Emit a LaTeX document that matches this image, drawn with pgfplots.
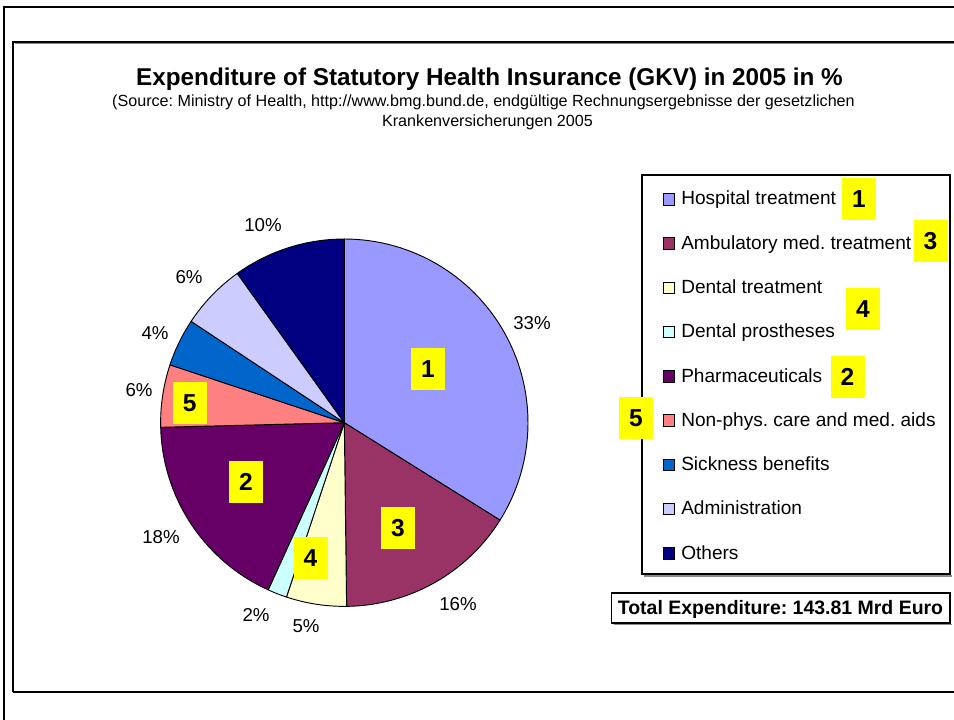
\documentclass[border=0pt]{standalone}
\usepackage{fontspec}
\setmainfont{Liberation Sans}
\usepackage{pgfplots}
\pgfplotsset{compat=1.18}
\frenchspacing

\definecolor{cHosp}{HTML}{9999FF}
\definecolor{cAmb}{HTML}{993366}
\definecolor{cDent}{HTML}{FFFFCC}
\definecolor{cPros}{HTML}{CCFFFF}
\definecolor{cPharm}{HTML}{660066}
\definecolor{cNon}{HTML}{FF8080}
\definecolor{cSick}{HTML}{0066CC}
\definecolor{cAdm}{HTML}{CCCCFF}
\definecolor{cOth}{HTML}{000080}
\definecolor{cYel}{HTML}{FFFF00}

% pie centre and radius, in pixels of the 954x720 frame (y runs downwards)
\def\pcx{344.3}
\def\pcy{422.7}
\def\pr{183.7}
\gdef\pieangle{90}

% one slice: share in %, colour; slices run clockwise from 12 o'clock
\newcommand\pieslice[2]{%
  \pgfmathsetmacro\wa{\pieangle}%
  \pgfmathsetmacro\wb{\pieangle-3.6*#1}%
  \xdef\pieangle{\wb}%
  \pgfmathtruncatemacro\wn{max(2,ceil((\wa-\wb)/2))}%
  \xdef\wpts{(\pcx,\pcy)}%
  \foreach \k in {0,...,\wn}{%
    \pgfmathsetmacro\wt{\wa-(\wa-\wb)*\k/\wn}%
    \pgfmathsetmacro\wx{\pcx+\pr*cos(\wt)}%
    \pgfmathsetmacro\wy{\pcy-\pr*sin(\wt)}%
    \xdef\wpts{\wpts (\wx,\wy)}}%
  \edef\wcmd{\noexpand\addplot[draw=black, line width=0.7pt, line join=round, fill=#2] coordinates {\wpts} -- cycle;}%
  \wcmd
}

\tikzset{
  pct/.style={font=\fontsize{14}{16}\selectfont},
  lg/.style={anchor=base west, inner sep=0pt, font=\fontsize{14.3}{16}\selectfont},
  num/.style={fill=cYel, inner sep=0pt, minimum width=25.5pt, minimum height=31.5pt,
    font=\fontsize{18.4}{20}\selectfont\bfseries},
}

\begin{document}
\begin{tikzpicture}
\begin{axis}[
  scale only axis, width=715.5pt, height=540pt,
  xmin=0, xmax=954, ymin=0, ymax=720, y dir=reverse,
  hide axis, clip=false]

  % frames
  \draw[line width=1.9pt] (axis cs:3,7) -- (axis cs:960,7);
  \draw[line width=1.9pt] (axis cs:4,6) -- (axis cs:4,730);
  \draw[black!45, line width=1pt] (axis cs:14.5,43.5) -- (axis cs:960,43.5);
  \draw[line width=1.1pt] (axis cs:13,692) -- (axis cs:13,42) -- (axis cs:960,42);
  \draw[line width=1.1pt] (axis cs:13,692) -- (axis cs:960,692);

  % title
  \node[anchor=base, font=\fontsize{18.2}{22}\selectfont\bfseries] at (axis cs:489.5,85.7)
    {Expenditure of Statutory Health Insurance (GKV) in 2005 in \%};
  \node[anchor=base, font=\fontsize{12.1}{14}\selectfont] at (axis cs:483.5,106.7)
    {(Source: Ministry of Health, http://www.bmg.bund.de, endgültige Rechnungsergebnisse der gesetzlichen};
  \node[anchor=base, font=\fontsize{12.1}{14}\selectfont] at (axis cs:487.5,126.7)
    {Krankenversicherungen 2005};

  % pie slices (shares in %)
  \pieslice{33.9}{cHosp}
  \pieslice{15.9}{cAmb}
  \pieslice{5.3}{cDent}
  \pieslice{1.7}{cPros}
  \pieslice{17.8}{cPharm}
  \pieslice{5.5}{cNon}
  \pieslice{4.2}{cSick}
  \pieslice{5.8}{cAdm}
  \pieslice{9.9}{cOth}

  % percentage labels
  \node[pct] at (axis cs:532,323) {33\%};
  \node[pct] at (axis cs:458,604) {16\%};
  \node[pct] at (axis cs:306,626) {5\%};
  \node[pct] at (axis cs:256,615) {2\%};
  \node[pct] at (axis cs:161,537) {18\%};
  \node[pct] at (axis cs:139,390) {6\%};
  \node[pct] at (axis cs:155,333) {4\%};
  \node[pct] at (axis cs:189,277) {6\%};
  \node[pct] at (axis cs:263,225) {10\%};

  % numbered markers on the pie
  \node[num] at (axis cs:428,369) {1};
  \node[num] at (axis cs:398,528) {3};
  \node[num] at (axis cs:310.5,558) {4};
  \node[num] at (axis cs:246,482) {2};
  \node[num] at (axis cs:189.7,403) {5};

  % legend
  \draw[black!45, line width=1pt] (axis cs:644,576) -- (axis cs:952,576);
  \draw[line width=0.8pt] (axis cs:642,175) rectangle (axis cs:950,574);
  \draw[fill=cHosp, line width=0.5pt] (axis cs:663,193.5) rectangle (axis cs:674.5,205);
  \draw[fill=cAmb, line width=0.5pt] (axis cs:663,237.75) rectangle (axis cs:674.5,249.25);
  \draw[fill=cDent, line width=0.5pt] (axis cs:663,282) rectangle (axis cs:674.5,293.5);
  \draw[fill=cPros, line width=0.5pt] (axis cs:663,326.25) rectangle (axis cs:674.5,337.75);
  \draw[fill=cPharm, line width=0.5pt] (axis cs:663,370.5) rectangle (axis cs:674.5,382);
  \draw[fill=cNon, line width=0.5pt] (axis cs:663,414.75) rectangle (axis cs:674.5,426.25);
  \draw[fill=cSick, line width=0.5pt] (axis cs:663,459) rectangle (axis cs:674.5,470.5);
  \draw[fill=cAdm, line width=0.5pt] (axis cs:663,503.25) rectangle (axis cs:674.5,514.75);
  \draw[fill=cOth, line width=0.5pt] (axis cs:663,547.5) rectangle (axis cs:674.5,559);
  \node[lg] at (axis cs:681,205) {Hospital treatment};
  \node[lg] at (axis cs:681,249.25) {Ambulatory med. treatment};
  \node[lg] at (axis cs:681,293.5) {Dental treatment};
  \node[lg] at (axis cs:681,337.75) {Dental prostheses};
  \node[lg] at (axis cs:681,382) {Pharmaceuticals};
  \node[lg] at (axis cs:681,426.25) {Non-phys. care and med. aids};
  \node[lg] at (axis cs:681,470.5) {Sickness benefits};
  \node[lg] at (axis cs:681,514.75) {Administration};
  \node[lg] at (axis cs:681,559) {Others};

  % numbered markers next to the legend
  \node[num] at (axis cs:859,199) {1};
  \node[num] at (axis cs:930.5,241) {3};
  \node[num] at (axis cs:863,309) {4};
  \node[num] at (axis cs:847.5,376.5) {2};
  \node[num] at (axis cs:636,418) {5};

  % total
  \draw[black!45, line width=1pt] (axis cs:613.5,624.5) -- (axis cs:951.5,624.5);
  \draw[line width=0.8pt] (axis cs:611.7,593) rectangle (axis cs:950,623);
  \node[anchor=base, font=\fontsize{14.6}{16}\selectfont\bfseries] at (axis cs:780.5,614)
    {Total Expenditure: 143.81 Mrd Euro};

  \coordinate (bl) at (axis cs:0,720);
  \coordinate (tr) at (axis cs:954,0);
\end{axis}
\pgfresetboundingbox
\useasboundingbox (bl) rectangle (tr);
\end{tikzpicture}
\end{document}
